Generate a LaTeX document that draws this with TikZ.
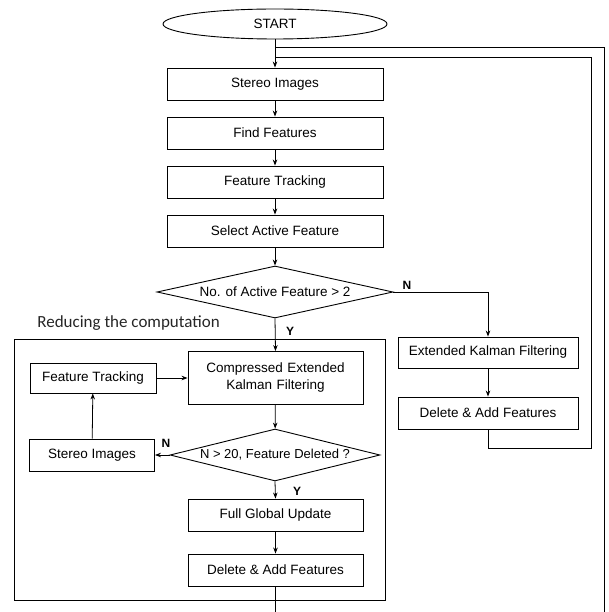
\documentclass[tikz,border=0pt]{standalone}
\usepackage{fontspec}
\setmainfont{Liberation Sans}
\newfontfamily\calfont{Carlito}
\usetikzlibrary{shapes.geometric,arrows.meta}
\begin{document}
\begin{tikzpicture}[x=1pt,y=-1pt,
  line width=0.8pt,
  every node/.style={font=\fontsize{13.5}{16}\selectfont, inner sep=0pt},
  box/.style={draw, rectangle, minimum height=32pt, align=center, line width=0.9pt},
  dec/.style={draw, diamond, minimum height=52pt, line width=0.9pt},
  arr/.style={-{Stealth[length=6pt,width=4.5pt]}},
  yn/.style={font=\bfseries\fontsize{12}{14}\selectfont}
]
\useasboundingbox (0,0) rectangle (608,612);

% main column
\node[draw, ellipse, minimum width=224pt, minimum height=30pt, line width=0.9pt] (start) at (275,24) {START};
\node[box, minimum width=216pt] (s1) at (275,84) {Stereo Images};
\node[box, minimum width=216pt] (ff) at (275,133) {Find Features};
\node[box, minimum width=216pt] (ft) at (275,182) {Feature Tracking};
\node[box, minimum width=216pt] (saf) at (275,231) {Select Active Feature};
\node[dec, aspect=4.54, minimum width=236pt] (d1) at (275,292) {No. of Active Feature > 2};

% right branch
\node[box, minimum width=180pt, minimum height=31pt] (ekf) at (488,352.5) {Extended Kalman Filtering};
\node[box, minimum width=180pt] (rda) at (488,413) {Delete \& Add Features};

% reduced computation region
\node[draw, rectangle, minimum width=371pt, minimum height=261pt, line width=0.8pt] (region) at (199.5,469.5) {};
\node[anchor=west, font=\calfont\fontsize{17}{19}\selectfont, text=black!85] (lbl) at (37,323) {Reducing the computation};
\node[box, minimum width=175pt, minimum height=53pt, text width=170pt, align=center] (cekf) at (275.5,378) {Compressed Extended\\[1pt]Kalman Filtering};
\node[box, minimum width=126pt, minimum height=30pt] (ft2) at (93,378) {Feature Tracking};
\node[dec, aspect=4.2, minimum width=210pt, font=\fontsize{13}{15}\selectfont] (d2) at (275,455) {N > 20, Feature Deleted ?};
\node[box, minimum width=125pt] (st2) at (92,455) {Stereo Images};
\node[box, minimum width=175pt] (fgu) at (275.5,515) {Full Global Update};
\node[box, minimum width=175pt] (da) at (275.5,570) {Delete \& Add Features};

% labels
\node[yn] (n1) at (407,285) {N};
\node[yn] (y1) at (290,331) {Y};
\node[yn] (n2) at (166,443) {N};
\node[yn] (y2) at (297,491) {Y};

% connectors
\coordinate (j1) at (275,47);
\coordinate (j2) at (275,57);
\coordinate (bot) at (275.5,612);
\coordinate (ob) at (604,612);
\coordinate (ib) at (591,448);

\draw[arr] (start.south) -- (s1.north);
\draw[arr] (s1) -- (ff);
\draw[arr] (ff) -- (ft);
\draw[arr] (ft) -- (saf);
\draw[arr] (saf) -- (d1);
\draw[arr] (d1.east) -| (ekf.north);
\draw[arr] (ekf) -- (rda);
\draw (rda.south) |- (ib) |- (j2);
\draw (ob) |- (j1);
\draw[arr] (d1.south) -- (cekf.north);
\draw[arr] (ft2.east) -- (cekf.west);
\draw[arr] (cekf) -- (d2);
\draw[arr] (d2.west) -- (st2.east);
\draw[arr] (st2) -- (ft2);
\draw[arr] (d2.south) -- (fgu.north);
\draw[arr] (fgu) -- (da);
\draw (da.south) -- (bot);
\end{tikzpicture}
\end{document}
